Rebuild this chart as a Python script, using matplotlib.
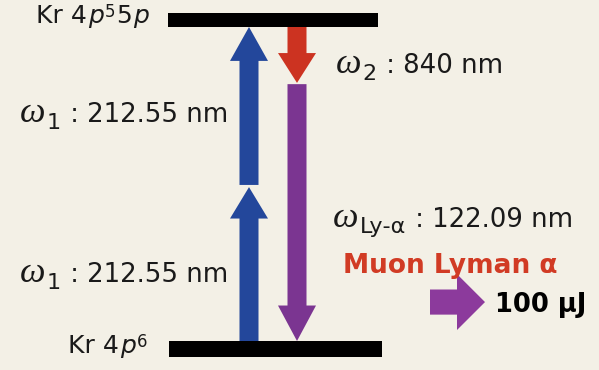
import matplotlib
matplotlib.use("Agg")
import matplotlib.pyplot as plt
from matplotlib.patches import FancyArrow, Rectangle
from matplotlib import transforms

# ---- data -----------------------------------------------------------------
# energy levels (diagram units: ground = 0, two-photon excited level = 1)
# each name is split into (text, kind) pieces: plain, italic or superscript
level_names = [
    [("Kr 4", "plain"), ("p", "italic"), ("6", "sup")],
    [("Kr 4", "plain"), ("p", "italic"), ("5", "sup"), ("5", "plain"),
     ("p", "italic")],
]
level_energy = [0.0, 1.0]

# two-photon excitation with omega_1
w1_wavelength_nm = 212.55
w1_steps = [(0.0, 0.5), (0.5, 1.0)]

# stimulated emission omega_2 down to the virtual level, then Lyman-alpha
w2_wavelength_nm = 840
virtual_level = 0.822
lya_wavelength_nm = 122.09
lya_energy_uJ = 100

# ---- styling --------------------------------------------------------------
BG = "#f3f0e6"
BLUE = "#23479b"
RED = "#cc3321"
PURPLE = "#7b3591"
MAGENTA = "#8c3a9c"
TEXT_RED = "#d13b24"
INK = "#1a1a1a"

plt.rcParams["font.family"] = ["DejaVu Sans"]

fig = plt.figure(figsize=(5.99, 3.70), dpi=100)
fig.patch.set_facecolor(BG)
ax = fig.add_axes([0, 0, 1, 1])
ax.set_facecolor(BG)
ax.set_xlim(0, 599)
ax.set_ylim(-29 / 314, 341 / 314)
ax.axis("off")
renderer = fig.canvas.get_renderer()

# level bars
ax.add_patch(Rectangle((169, level_energy[0] - 0.051), 213, 0.051,
                       color="black", lw=0))
ax.add_patch(Rectangle((168, level_energy[1]), 210, 0.045,
                       color="black", lw=0))

x_up = 249
x_down = 297
shaft = 19
head_w = 38


def varrow(x, e0, e1, color, head_len, shrink0=0.0, shrink1=0.0):
    sgn = 1 if e1 > e0 else -1
    start = e0 + sgn * shrink0
    end = e1 - sgn * shrink1
    ax.add_patch(FancyArrow(x, start, 0, end - start, width=shaft,
                            head_width=head_w, head_length=head_len,
                            length_includes_head=True, color=color, lw=0))


# omega_1 arrows (two photons)
varrow(x_up, w1_steps[0][0], w1_steps[0][1], BLUE, 0.100, shrink1=0.01)
varrow(x_up, w1_steps[1][0], w1_steps[1][1], BLUE, 0.108, shrink0=-0.003)

# omega_2 and Lyman-alpha arrows
varrow(x_down, level_energy[1], virtual_level, RED, 0.095)
varrow(x_down, virtual_level, level_energy[0], PURPLE, 0.113, shrink0=0.004)

# output arrow
ax.add_patch(FancyArrow(430, 0.124, 55, 0, width=0.080, head_width=0.178,
                        head_length=28, length_includes_head=True,
                        color=MAGENTA, lw=0))

# ---- labels ---------------------------------------------------------------
OMEGA = dict(family="Liberation Serif", style="italic", fontsize=26, color=INK)
SUB = dict(fontsize=16, color=INK)
MAIN = dict(fontsize=18.7, color=INK)

LVL = dict(fontsize=18, color=INK)
LVL_STYLES = {
    "plain": (LVL, 0),
    "italic": (dict(LVL, style="italic"), 0),
    "sup": (dict(fontsize=12, color=INK), -6),
}


def compose(x, y, parts, align="left"):
    """Lay text pieces side by side on a shared baseline.

    parts: (text, props, drop) with drop in pixels (positive = lower)."""
    texts = []
    cur = x
    for s, props, drop in parts:
        tr = transforms.offset_copy(ax.transData, fig=fig, y=-drop,
                                    units="dots")
        t = ax.text(cur, y, s, ha="left", va="baseline", transform=tr,
                    **props)
        bb = t.get_window_extent(renderer)
        cur = ax.transData.inverted().transform((bb.x1 + 1, 0))[0]
        texts.append(t)
    if align == "right":
        shift = x - cur
        for t in texts:
            px, py = t.get_position()
            t.set_position((px + shift, py))


def frequency_label(x, y, sub, rest, sub_drop=7):
    compose(x, y, [("ω", OMEGA, 0), (sub, SUB, sub_drop), (rest, MAIN, 0)])


def level_label(x_right, y, pieces):
    parts = []
    for s, kind in pieces:
        props, drop = LVL_STYLES[kind]
        parts.append((s, props, drop))
    compose(x_right, y, parts, align="right")


level_label(150, 1.0127, level_names[1])
level_label(148, -0.0382, level_names[0])

w1_rest = " : %.2f nm" % w1_wavelength_nm
frequency_label(20, 0.6975, "1", w1_rest)
frequency_label(20, 0.1879, "1", w1_rest)
frequency_label(336, 0.8535, "2", " : %d nm" % w2_wavelength_nm)
frequency_label(333, 0.3631, "Ly‐α", " : %.2f nm" % lya_wavelength_nm,
                sub_drop=6)

ax.text(343, 0.2166, "Muon Lyman α", ha="left", va="baseline",
        fontsize=19, fontweight="bold", color=TEXT_RED)
ax.text(495, 0.0924, "%d µJ" % lya_energy_uJ, ha="left", va="baseline",
        fontsize=18.5, fontweight="bold", color="black")

fig.savefig("out.png", dpi=100, facecolor=BG)
